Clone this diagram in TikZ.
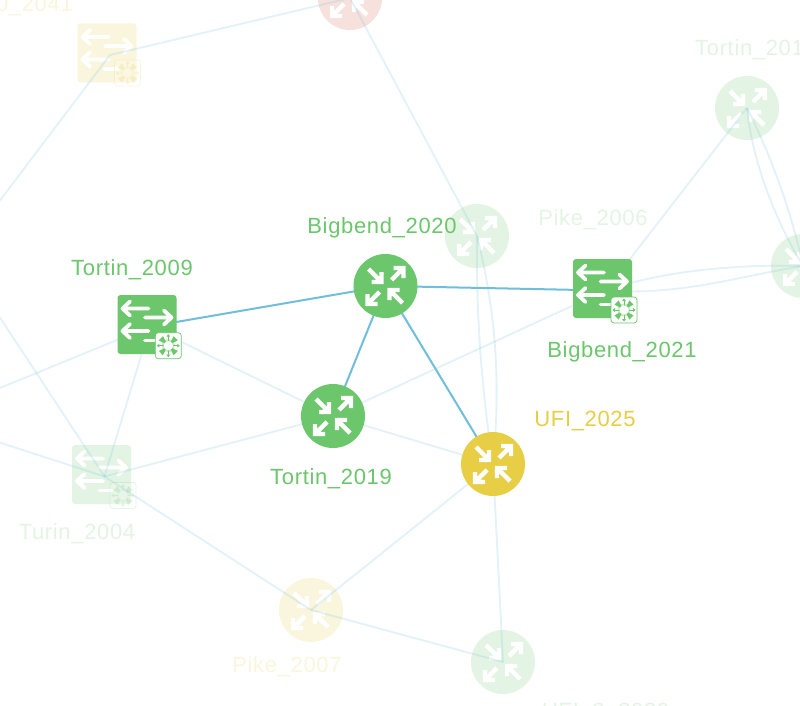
\documentclass[tikz,border=0pt]{standalone}
\usepackage{fontspec}
\setmainfont{Liberation Sans}
\newfontfamily\lblfont[LetterSpace=3]{Liberation Sans}
\pgfdeclarelayer{faintnodes}
\pgfdeclarelayer{edges}
\pgfsetlayers{faintnodes,edges,main}
\definecolor{gr}{HTML}{6CC66C}
\definecolor{ye}{HTML}{E8CE45}
\definecolor{re}{HTML}{CF5C48}
\definecolor{bl}{HTML}{70BEDC}
\tikzset{
 x=1pt,y=-1pt,
 router/.style={circle,minimum size=64pt,inner sep=0pt,draw=none},
 switchbox/.style={rectangle,rounded corners=3pt,minimum size=59pt,inner sep=0pt,draw=none},
 faint/.style={fill opacity=.18},
 link/.style={draw=bl,line width=2pt},
 flink/.style={draw=bl,line width=1.8pt,opacity=.2},
 lbl/.style={font=\lblfont\fontsize{22}{26}\selectfont,inner sep=0pt},
 fl/.style={text opacity=.18},
 pics/routericon/.style={code={
  \begin{scope}[draw=white,line width=4.4pt,line cap=butt,miter limit=10]
   \draw (-17,-17)--(-6,-6) (-4,-14)--(-4,-4)--(-14,-4);
   \draw (6,-6)--(17,-17) (8,-18)--(18,-18)--(18,-8);
   \draw (-6,6)--(-17,17) (-18,8)--(-18,18)--(-8,18);
   \draw (17,17)--(6,6) (4,14)--(4,4)--(14,4);
  \end{scope}}},
 pics/switchicon/.style={code={
  \begin{scope}[draw=white,line width=3.8pt,line cap=round,line join=round]
   \draw (1.5,-16)--(-24,-16) (-17,-23)--(-24.5,-16)--(-17,-9);
   \draw (-2,-7)--(24,-7) (17,-14)--(24.5,-7)--(17,0);
   \draw (1.5,6.5)--(-24,6.5) (-17,-.5)--(-24.5,6.5)--(-17,13.5);
   \draw (-2,16)--(10,16);
  \end{scope}}},
 pics/badge/.style={code={
  \draw[draw=#1,line width=.7pt,fill=white,rounded corners=3pt] (-13,-13) rectangle (13,13);
  \foreach \a in {45,135,225,315}{
   \fill[#1,rotate=\a] (4.5,-1)--(10.5,-3)--(10.5,3)--(4.5,1)--cycle;}
  \foreach \a in {0,90,180,270}{
   \begin{scope}[rotate=\a]
    \draw[#1,line width=.8pt] (4.5,0)--(10,0);
    \fill[#1] (11.5,0)--(9,-2)--(9,2)--cycle;
   \end{scope}}
  \fill[#1,opacity=.35] (0,0) circle (6.5);
  \fill[white] (0,0) circle (4.6);
 }},
 swp/.style={shift={(3,2)}},
}
\begin{document}
\begin{tikzpicture}
\useasboundingbox (0,0) rectangle (800,706);
% faint nodes
\begin{pgfonlayer}{faintnodes}
 \fill[white] (0,0) rectangle (800,706);
 \node[router,faint,fill=re] (red) at (350,-2) {};
 \pic at (red) {routericon};
 \node[router,faint,fill=gr] (pikerouter) at (477,236) {};
 \pic at (pikerouter) {routericon};
 \node[router,faint,fill=gr] (tortintop) at (747,108) {};
 \pic at (tortintop) {routericon};
 \node[router,faint,fill=gr] (rightr) at (803,266) {};
 \pic at (rightr) {routericon};
 \node[router,faint,fill=ye] (pike7) at (311,610) {};
 \pic at (pike7) {routericon};
 \node[router,faint,fill=gr] (ufib) at (503,662) {};
 \pic at (ufib) {routericon};
 \node[switchbox,faint,fill=ye] (u41) at (107,53) {};
 \pic at (u41) {switchicon};
 \begin{scope}[opacity=.18,transparency group]\pic at (127.5,73) {badge=ye};\end{scope}
 \node[switchbox,faint,fill=gr] (turin) at (101.5,474.5) {};
 \pic at (turin) {switchicon};
 \begin{scope}[opacity=.18,transparency group]\pic at (123,495.5) {badge=gr};\end{scope}
\end{pgfonlayer}
% strong nodes
\node[router,fill=gr] (b20) at (385.5,286) {};
\pic at (b20) {routericon};
\node[router,fill=gr] (t19) at (333,416) {};
\pic at (t19) {routericon};
\node[router,fill=ye] (ufi) at (493,464) {};
\pic at (ufi) {routericon};
\node[switchbox,fill=gr] (b21) at (602.5,288.5) {};
\pic at (b21) {switchicon};
\pic at (624,310) {badge=gr};
\node[switchbox,fill=gr] (t09) at (147,324.5) {};
\pic at (t09) {switchicon};
\pic at (168.3,345.7) {badge=gr};
% free ends
\coordinate (e1) at (-5,207);
\coordinate (e2) at (-5,390);
\coordinate (e3) at (-5,441);
\coordinate (e4) at (-5,310);
% edges
\begin{pgfonlayer}{edges}
 \draw[link] ([swp]t09.center)--(b20.center);
 \draw[link] (b20.center)--([swp]b21.center);
 \draw[link] (b20.center)--(t19.center);
 \draw[link] (b20.center)--(ufi.center);
 \draw[flink] ([swp]u41.center)--(red.center);
 \draw[flink] ([swp]u41.center)--(e1);
 \draw[flink] (red.center)--(pikerouter.center);
 \draw[flink] (pikerouter.center) .. controls (476,320) and (482,390) .. (ufi.center);
 \draw[flink] (pikerouter.center) .. controls (498,320) and (500,390) .. (ufi.center);
 \draw[flink] (ufi.center)--(ufib.center);
 \draw[flink] ([swp]t09.center)--(t19.center);
 \draw[flink] ([swp]t09.center)--([swp]turin.center);
 \draw[flink] ([swp]t09.center)--(e2);
 \draw[flink] ([swp]turin.center)--(t19.center);
 \draw[flink] ([swp]turin.center)--(pike7.center);
 \draw[flink] ([swp]turin.center)--(e3);
 \draw[flink] ([swp]turin.center)--(e4);
 \draw[flink] (t19.center)--([swp]b21.center);
 \draw[flink] (t19.center)--(ufi.center);
 \draw[flink] (ufi.center)--(pike7.center);
 \draw[flink] (pike7.center)--(ufib.center);
 \draw[flink] ([swp]b21.center)--(tortintop.center);
 \draw[flink] ([swp]b21.center) .. controls (660,272) and (730,264) .. (rightr.center);
 \draw[flink] ([swp]b21.center) .. controls (680,296) and (740,276) .. (rightr.center);
 \draw[flink] (tortintop.center) .. controls (752,160) and (775,220) .. (rightr.center);
 \draw[flink] (tortintop.center) .. controls (768,150) and (790,205) .. (rightr.center);
\end{pgfonlayer}
% labels
\node[lbl,text=gr] (lb20) at (382,227.5) {Bigbend\_2020};
\node[lbl,text=gr] (lt09) at (132,269.5) {Tortin\_2009};
\node[lbl,text=gr] (lt19) at (331,478.5) {Tortin\_2019};
\node[lbl,text=ye] (lufi) at (585,421) {UFI\_2025};
\node[lbl,text=gr] (lb21) at (622,352) {Bigbend\_2021};
\node[lbl,text=gr,fl] (lp6) at (593,220) {Pike\_2006};
\node[lbl,text=gr,fl,anchor=west] (ltt) at (695,50) {Tortin\_201};
\node[lbl,text=ye,fl,anchor=east] (lu) at (73,6) {0\_2041};
\node[lbl,text=gr,fl] (ltu) at (77,534) {Turin\_2004};
\node[lbl,text=ye,fl] (lp7) at (287,667) {Pike\_2007};
\node[lbl,text=gr,fl,anchor=west] (lub) at (542,713) {UFI\_2\_2020};
\end{tikzpicture}
\end{document}
